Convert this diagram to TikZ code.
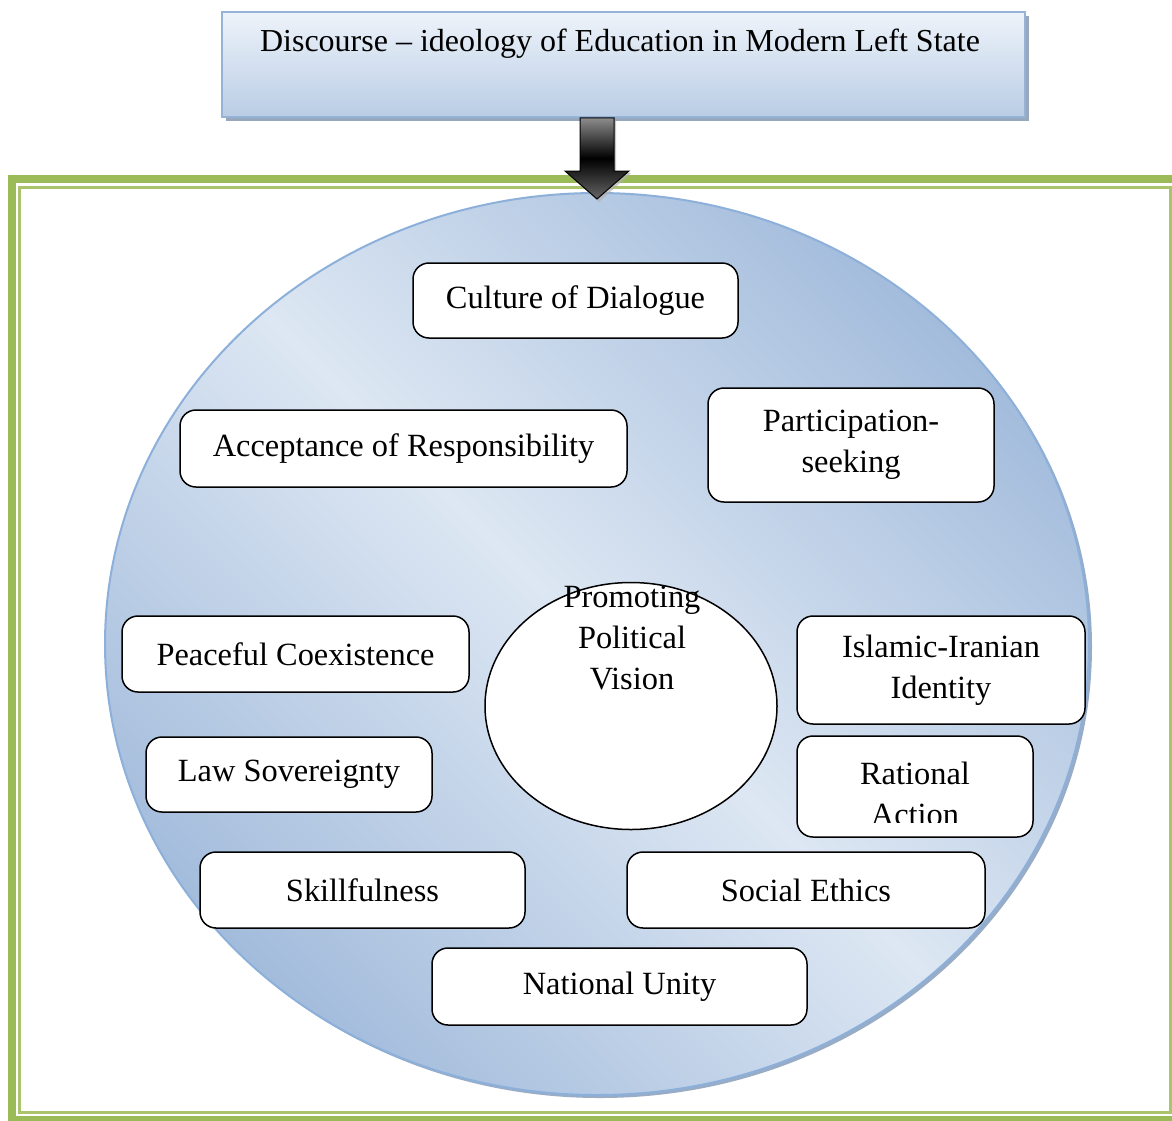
\documentclass[tikz,border=0pt]{standalone}
\usepackage{fontspec}
\setmainfont{Liberation Serif}
\usetikzlibrary{calc,shapes.geometric,shadows}
\definecolor{frameG}{HTML}{9BBB59}
\definecolor{frameL}{HTML}{A9C46B}
\definecolor{ellDark}{HTML}{A3BCDC}
\definecolor{ellLight}{HTML}{DDE7F3}
\definecolor{ellLine}{HTML}{8DB0DA}
\definecolor{ellShadow}{HTML}{7E97B8}
\definecolor{topTop}{HTML}{EEF3FA}
\definecolor{topBot}{HTML}{B9CDE5}
\definecolor{topLine}{HTML}{95B3D7}
\definecolor{topShadow}{HTML}{8C9DB5}
\begin{document}
\begin{tikzpicture}[x=0.5pt,y=-0.5pt,
  txt/.style={font=\fontsize{16.2}{20.5}\selectfont,align=center,inner sep=0pt},
  box/.style={draw=black,line width=0.75pt,fill=white,rounded corners=8pt,inner sep=0pt,
    txt},
  arrowsty/.style={draw=black,line width=0.5pt,top color=gray!90,bottom color=gray!80!black,middle color=black}]
\path[use as bounding box,clip] (0,0) rectangle (1172,1120);
% green frame
\draw[frameG,line width=4pt] (11.5,179) rectangle (1178,1120);
\draw[frameL,line width=1.5pt] (19.5,187.5) rectangle (1170.5,1112);
% big ellipse
\node[ellipse,minimum width=492pt,minimum height=451pt,inner sep=0pt,
  draw=ellLine,line width=1pt,left color=ellDark,right color=ellDark,middle color=ellLight,
  shading angle=-45,
  drop shadow={shadow xshift=1.5pt,shadow yshift=-1.5pt,fill=ellShadow,opacity=0.8}]
  (outer) at (597,644) {};
% top box
\node[rectangle,minimum width=401.5pt,minimum height=52.5pt,inner sep=0pt,draw=topLine,line width=0.75pt,
  top color=topTop,bottom color=topBot,
  drop shadow={shadow xshift=1.8pt,shadow yshift=-1.8pt,fill=topShadow,opacity=0.9}] (top) at (623.5,64.5) {};
\node[txt,font=\fontsize{16}{20.5}\selectfont] (title) at (620,44) {Discourse -- ideology of Education in Modern Left State};
% block arrow
\coordinate (aS) at (top.south -| outer.north);
\coordinate (aT) at ($(outer.north)+(0,7)$);
\fill[gray!60,opacity=0.7] ($(aS)+(-15,2)$) -- ($(aS)+(19,2)$) -- ($(aT)+(19,-26)$) -- ($(aT)+(34,-26)$) -- ($(aT)+(2,3)$) -- ($(aT)+(-30,-26)$) -- ($(aT)+(-15,-26)$) -- cycle;
\draw[arrowsty] ($(aS)+(-17,0)$) -- ($(aS)+(17,0)$) -- ($(aT)+(17,-28)$) -- ($(aT)+(32,-28)$) -- (aT) -- ($(aT)+(-32,-28)$) -- ($(aT)+(-17,-28)$) -- cycle;
% inner circle
\node[ellipse,minimum width=146pt,minimum height=123.5pt,inner sep=0pt,draw=black,line width=0.75pt,fill=white] (pv) at (631,706) {};
\node[txt] (pvT) at (632,638) {Promoting\\Political\\Vision};
% boxes
\node[box,minimum width=162.5pt,minimum height=37.5pt] (cd) at (575.5,300.5) {Culture of Dialogue};
\node[box,minimum width=223.5pt,minimum height=38.5pt] (ar) at (403.5,448.5) {Acceptance of Responsibility};
\node[box,minimum width=143pt,minimum height=57pt] (ps) at (851,445) {Participation-\\seeking};
\node[box,minimum width=173.5pt,minimum height=38pt] (pc) at (295.5,654) {Peaceful Coexistence};
\node[box,minimum width=144pt,minimum height=54pt] (ii) at (941,670) {Islamic-Iranian\\Identity};
\node[box,minimum width=118pt,minimum height=50.5pt] (ra) at (915,786.5) {};
\begin{scope}
\clip (797,736) rectangle (1033,822);
\node[txt] (raT) at (915,794) {Rational\\Action};
\end{scope}
\node[box,minimum width=143pt,minimum height=37.5pt] (ls) at (289,774.5) {Law Sovereignty};
\node[box,minimum width=162.5pt,minimum height=38pt] (sk) at (362.5,890) {Skillfulness};
\node[box,minimum width=179pt,minimum height=38pt] (se) at (806,890) {Social Ethics};
\node[box,minimum width=187.5pt,minimum height=38.5pt] (nu) at (619.5,986.5) {National Unity};
\end{tikzpicture}
\end{document}
